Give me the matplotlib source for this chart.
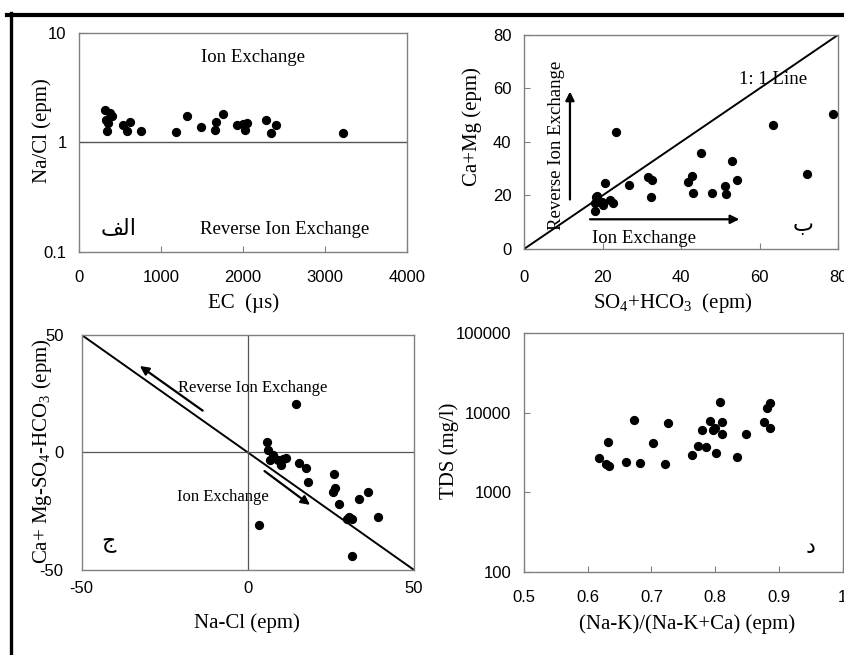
import matplotlib
matplotlib.use("Agg")
import matplotlib.pyplot as plt
from matplotlib.lines import Line2D
from matplotlib.ticker import FixedLocator, FuncFormatter, NullLocator

plt.rcParams["font.family"] = ["Liberation Serif", "DejaVu Sans"]
plt.rcParams["mathtext.fontset"] = "custom"
plt.rcParams["mathtext.rm"] = "Liberation Serif"
plt.rcParams["mathtext.it"] = "Liberation Serif:italic"
plt.rcParams["axes.unicode_minus"] = False

# panel a: Na/Cl vs EC
ec = [317, 378, 398, 329, 357, 345, 540, 621, 589, 752, 1182, 1312, 1483, 1669,
      1758, 1657, 1921, 2002, 2022, 2043, 2278, 2400, 2335, 3213]
na_cl = [1.99, 1.85, 1.73, 1.61, 1.50, 1.26, 1.45, 1.55, 1.28, 1.28, 1.24, 1.76,
         1.37, 1.53, 1.81, 1.31, 1.43, 1.47, 1.31, 1.52, 1.61, 1.45, 1.23, 1.23]

# panel b: Ca+Mg vs SO4+HCO3
so4_hco3 = [18.1, 18.3, 20.6, 23.4, 18.5, 18.1, 19.8, 21.9, 22.7, 19.3, 20.0, 26.6,
            31.5, 32.6, 32.2, 41.8, 42.7, 43.0, 45.0, 47.9, 51.2, 51.3, 53.0, 54.1,
            63.3, 72.1, 78.6]
ca_mg = [14.3, 19.5, 24.8, 43.8, 19.8, 17.1, 17.7, 18.3, 17.1, 17.7, 16.4, 23.9,
         26.8, 25.8, 19.5, 25.1, 27.4, 21.0, 36.0, 20.8, 23.6, 20.4, 32.9, 25.7,
         46.3, 28.1, 50.3]

# panel c: (Ca+Mg-SO4-HCO3) vs (Na-Cl)
na_minus_cl = [14.4, 5.7, 6.2, 7.5, 6.6, 8.0, 9.0, 10.0, 10.5, 11.5, 15.4, 17.4, 18.2,
               26.0, 25.7, 26.2, 27.4, 33.5, 36.2, 29.7, 30.5, 31.4, 39.1, 31.2, 3.4]
cm_minus_sh = [20.5, 4.3, 1.1, -1.0, -3.2, -2.2, -3.0, -5.3, -2.9, -2.5, -4.3, -6.5,
               -12.7, -9.1, -16.7, -15.2, -21.9, -19.8, -16.9, -28.4, -27.3, -28.4,
               -27.6, -44.0, -31.0]

# panel d: TDS vs (Na-K)/(Na-K+Ca)
gibbs_ratio = [0.618, 0.628, 0.634, 0.632, 0.660, 0.672, 0.682, 0.703, 0.721, 0.726,
               0.764, 0.773, 0.785, 0.780, 0.792, 0.796, 0.800, 0.801, 0.808, 0.811,
               0.811, 0.834, 0.848, 0.876, 0.881, 0.886, 0.886]
tds = [2710, 2260, 2130, 4240, 2370, 8090, 2310, 4120, 2260, 7350, 2930, 3810, 3730,
       6050, 7930, 6050, 6350, 3080, 13770, 7710, 5350, 2790, 5350, 7570, 11350,
       13130, 6350]

SPINE = "#808080"
TXT = 13.5
arrow = dict(arrowstyle="-|>", color="black", lw=1.6, mutation_scale=13,
             shrinkA=0, shrinkB=0)


def style(ax, xpad=13):
    for s in ax.spines.values():
        s.set_color(SPINE)
        s.set_linewidth(1.0)
    ax.tick_params(direction="in", length=4, color=SPINE, labelsize=12,
                   labelfontfamily="Liberation Sans", pad=9)
    ax.tick_params(axis="x", pad=xpad)
    ax.tick_params(which="minor", length=0)


def labels(ax, xl, yl, xc, yc):
    ax.set_xlabel(xl, fontsize=15)
    ax.set_ylabel(yl, fontsize=15)
    ax.xaxis.set_label_coords(*xc)
    ax.yaxis.set_label_coords(*yc)
    ax.xaxis.label.set_va("center")
    ax.yaxis.label.set_va("center")


fig = plt.figure(figsize=(8.45, 6.55), dpi=100)
fs = lambda v: "%g" % v

# ---- top-left
ax1 = fig.add_axes([0.0935, 0.6148, 0.3885, 0.3353])
ax1.scatter(ec, na_cl, s=32, color="black", zorder=3)
ax1.set_yscale("log")
ax1.set_xlim(0, 4000)
ax1.set_ylim(0.1, 10)
ax1.xaxis.set_major_locator(FixedLocator([0, 1000, 2000, 3000, 4000]))
ax1.yaxis.set_major_locator(FixedLocator([0.1, 1, 10]))
ax1.yaxis.set_minor_locator(NullLocator())
ax1.yaxis.set_major_formatter(FuncFormatter(lambda v, p: fs(v)))
ax1.axhline(1, color="#555555", lw=1.0)
style(ax1)
labels(ax1, "EC  (µs)", "Na/Cl (epm)", (0.5, -0.231), (-0.113, 0.554))
ax1.text(2123, 6.0, "Ion Exchange", fontsize=TXT, ha="center", va="center")
ax1.text(2510, 0.163, "Reverse Ion Exchange", fontsize=TXT, ha="center", va="center")
ax1.text(479, 0.166, "\uFED2\uFEDF\uFE8D", fontsize=16, ha="center", va="center",
         family=["DejaVu Sans"])

# ---- top-right
ax2 = fig.add_axes([0.6201, 0.6198, 0.3720, 0.3272])
ax2.scatter(so4_hco3, ca_mg, s=32, color="black", zorder=3)
ax2.plot([0, 80], [0, 80], color="black", lw=1.4)
ax2.set_xlim(0, 80)
ax2.set_ylim(0, 80)
ax2.xaxis.set_major_locator(FixedLocator([0, 20, 40, 60, 80]))
ax2.yaxis.set_major_locator(FixedLocator([0, 20, 40, 60, 80]))
style(ax2, xpad=15)
labels(ax2, r"SO$_\mathrm{4}$+HCO$_\mathrm{3}$  (epm)", "Ca+Mg (epm)",
       (0.474, -0.251), (-0.166, 0.571))
ax2.text(54.8, 63.4, "1: 1 Line", fontsize=TXT, ha="left", va="center")
ax2.annotate("", xy=(11.7, 58.8), xytext=(11.7, 18.5), arrowprops=arrow)
ax2.text(8.3, 38.8, "Reverse Ion Exchange", fontsize=TXT, rotation=90,
         ha="center", va="center")
ax2.annotate("", xy=(54.8, 11.1), xytext=(16.8, 11.1), arrowprops=arrow)
ax2.text(17.2, 4.0, "Ion Exchange", fontsize=TXT, ha="left", va="center")
ax2.text(71.1, 9.0, "\u0628", fontsize=16, ha="center", va="center",
         family=["DejaVu Sans"])

# ---- bottom-left
ax3 = fig.add_axes([0.0967, 0.1298, 0.3933, 0.3588])
ax3.scatter(na_minus_cl, cm_minus_sh, s=32, color="black", zorder=3)
ax3.plot([-50, 50], [50, -50], color="black", lw=1.4)
ax3.axhline(0, color="#555555", lw=0.9)
ax3.axvline(0, color="#555555", lw=0.9)
ax3.set_xlim(-50, 50)
ax3.set_ylim(-50, 50)
ax3.xaxis.set_major_locator(FixedLocator([-50, 0, 50]))
ax3.yaxis.set_major_locator(FixedLocator([-50, 0, 50]))
style(ax3, xpad=8)
ax3.tick_params(length=0)
ax3.tick_params(axis="y", pad=13)
labels(ax3, "Na-Cl (epm)", r"Ca+ Mg-SO$_\mathrm{4}$-HCO$_\mathrm{3}$ (epm)",
       (0.497, -0.226), (-0.118, 0.506))
ax3.annotate("", xy=(-32.5, 36.8), xytext=(-13.6, 17.8), arrowprops=arrow)
ax3.annotate("", xy=(18.7, -22.3), xytext=(5.0, -7.9), arrowprops=arrow)
ax3.text(1.4, 27.3, "Reverse Ion Exchange", fontsize=12, ha="center", va="center")
ax3.text(-7.4, -18.8, "Ion Exchange", fontsize=12, ha="center", va="center")
ax3.text(-42, -38, "\u062C", fontsize=16, ha="center", va="center",
         family=["DejaVu Sans"])

# ---- bottom-right
ax4 = fig.add_axes([0.6201, 0.1272, 0.3772, 0.3639])
ax4.scatter(gibbs_ratio, tds, s=32, color="black", zorder=3)
ax4.set_yscale("log")
ax4.set_xlim(0.5, 1.0)
ax4.set_ylim(100, 100000)
ax4.xaxis.set_major_locator(FixedLocator([0.5, 0.6, 0.7, 0.8, 0.9, 1.0]))
ax4.xaxis.set_major_formatter(FuncFormatter(lambda v, p: fs(round(v, 1))))
ax4.yaxis.set_major_locator(FixedLocator([100, 1000, 10000, 100000]))
ax4.yaxis.set_minor_locator(NullLocator())
ax4.yaxis.set_major_formatter(FuncFormatter(lambda v, p: "%d" % round(v)))
style(ax4)
labels(ax4, "(Na-K)/(Na-K+Ca) (epm)", "TDS (mg/l)", (0.513, -0.219), (-0.235, 0.507))
ax4.text(0.949, 205, "\u062F", fontsize=16, ha="center", va="center",
         family=["DejaVu Sans"])

# outer frame (top and left black border)
H = 655.0
W = 845.0
fig.add_artist(Line2D([7 / W, 1.0], [1 - 15 / H, 1 - 15 / H], color="black",
                      lw=3.0, transform=fig.transFigure))
fig.add_artist(Line2D([11.5 / W, 11.5 / W], [1 - 13 / H, 0.0], color="black",
                      lw=2.4, transform=fig.transFigure))

fig.savefig("out.png", dpi=100)
